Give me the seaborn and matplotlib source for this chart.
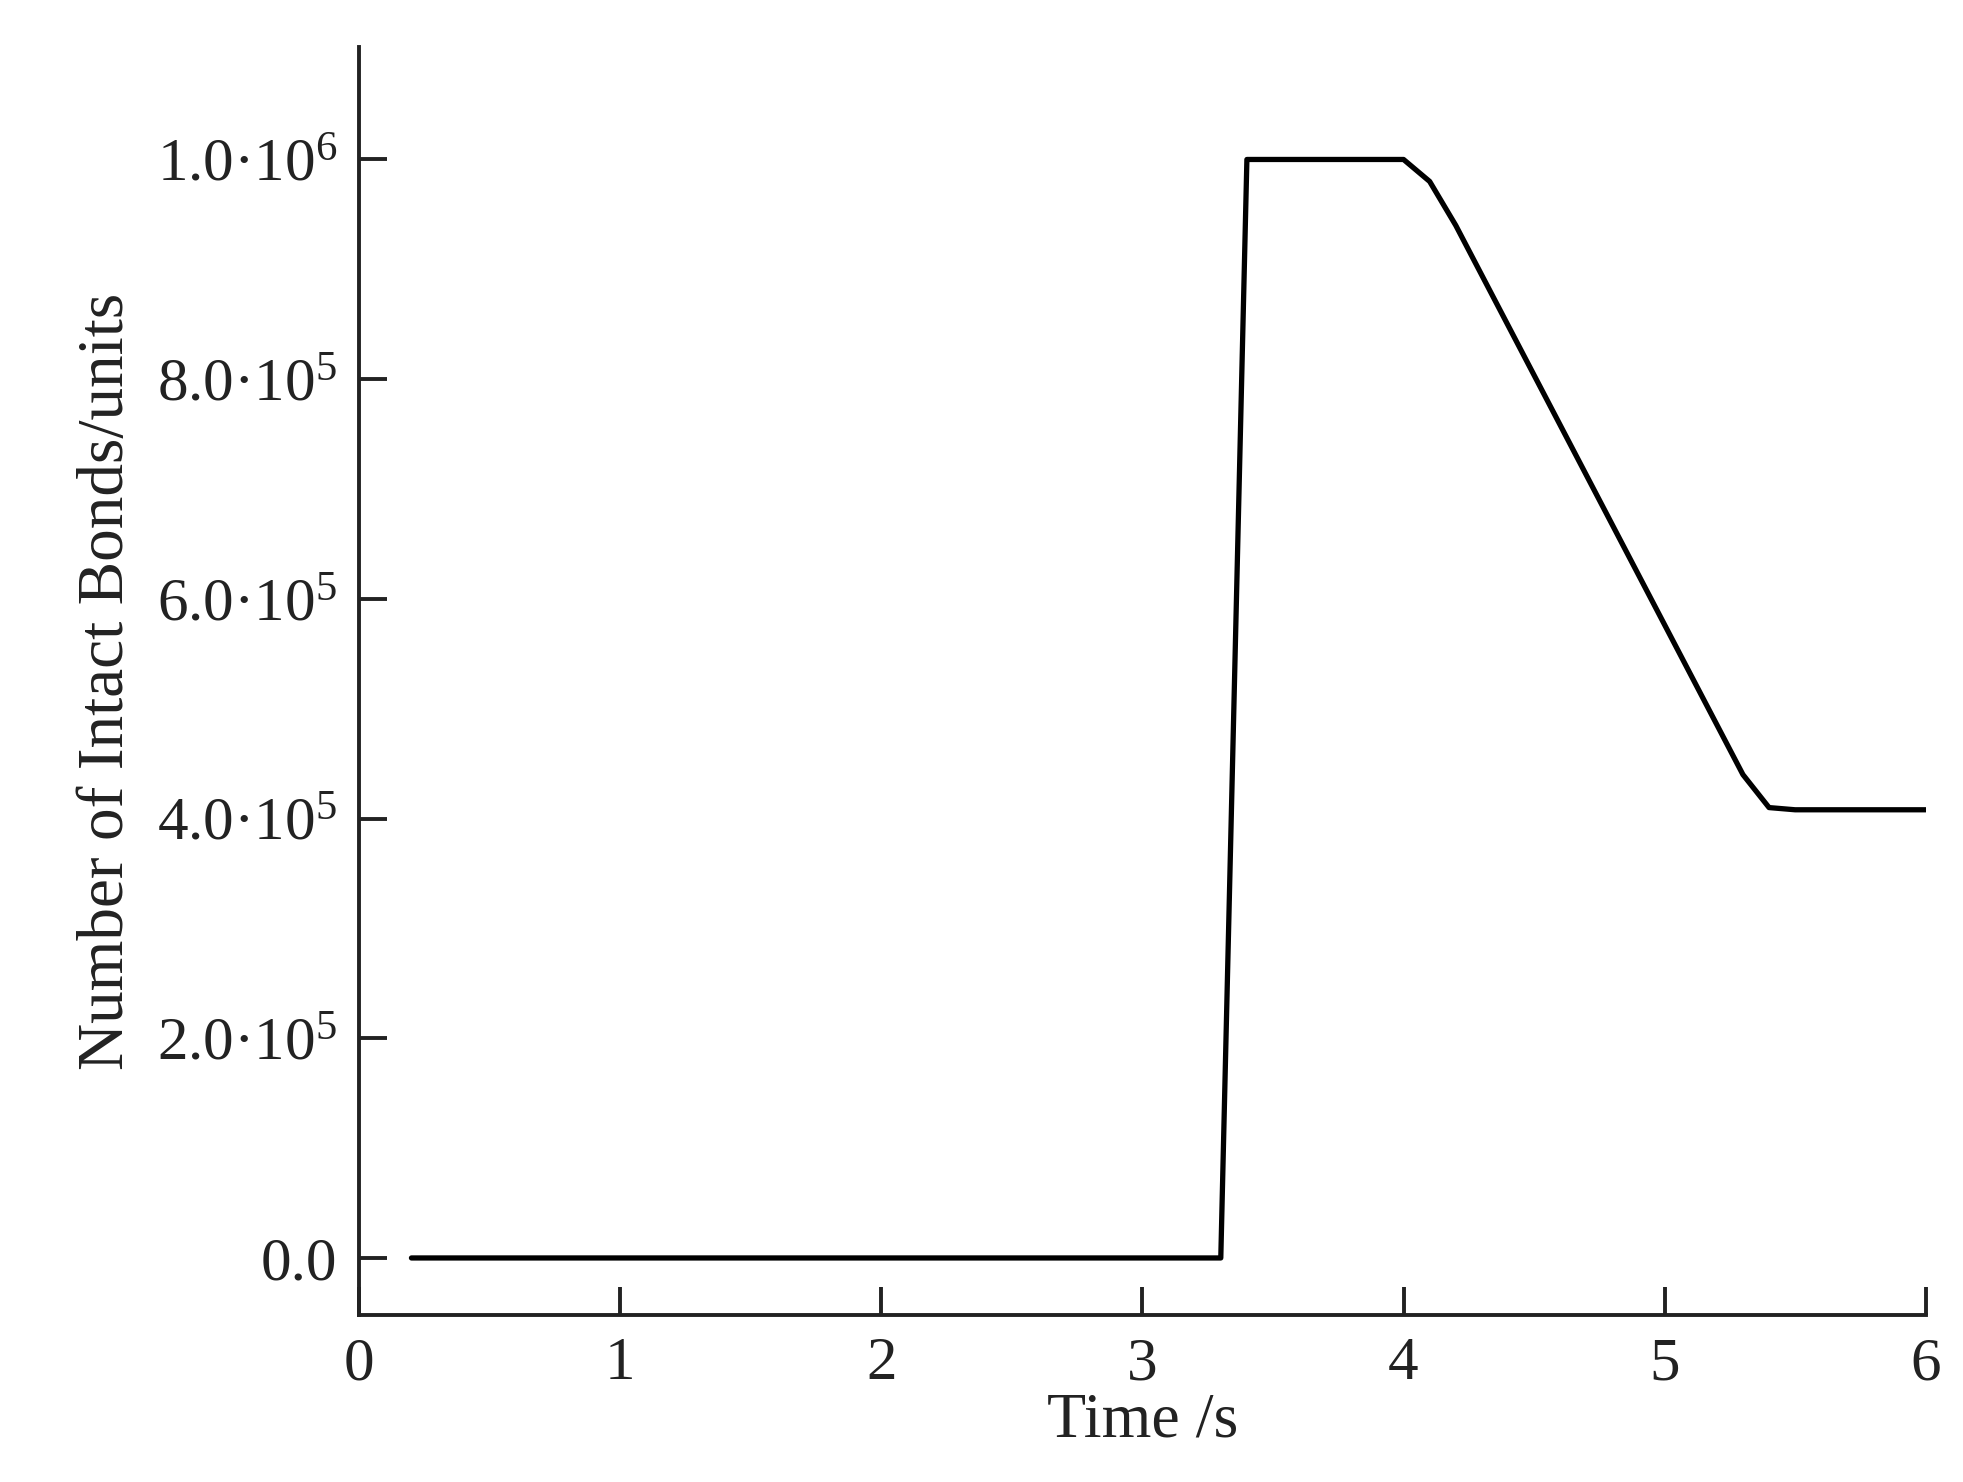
import matplotlib
matplotlib.use("Agg")
import matplotlib.pyplot as plt
import seaborn as sns
import pandas as pd

time_s = [0.2, 3.3, 3.4, 4.0, 4.1, 4.2, 5.3, 5.4, 5.5, 6.0]
bonds = [0, 0, 1.0e6, 1.0e6, 0.98e6, 0.94e6, 0.44e6, 0.41e6, 0.408e6, 0.408e6]
y_ticks = [0, 2e5, 4e5, 6e5, 8e5, 1e6]
y_labels = ["0.0", "2.0·10$^{5}$", "4.0·10$^{5}$", "6.0·10$^{5}$", "8.0·10$^{5}$", "1.0·10$^{6}$"]

sns.set_theme(style="ticks")
plt.rcParams['font.family'] = ['Liberation Serif', 'DejaVu Serif']
plt.rcParams['mathtext.fontset'] = 'custom'
plt.rcParams['mathtext.rm'] = 'Liberation Serif'
plt.rcParams['mathtext.it'] = 'Liberation Serif'

df = pd.DataFrame({"t": time_s, "b": bonds})
fig = plt.figure(figsize=(19.63, 14.82), dpi=100)
ax = fig.add_axes([0.183, 0.113, 0.798, 0.855])
sns.lineplot(data=df, x="t", y="b", color="black", linewidth=3.8, ax=ax)
ax.set_xlim(0, 6)
ax.set_ylim(-51500, 1.102e6)
ax.set_xticks(range(7))
ax.set_yticks(y_ticks)
ax.set_yticklabels(y_labels)
ax.tick_params(direction="in", length=20, width=2.8, labelsize=44, colors="#222222", pad=16)
for s in ["top", "right"]:
    ax.spines[s].set_visible(False)
for s in ["left", "bottom"]:
    ax.spines[s].set_linewidth(2.8)
    ax.spines[s].set_color("#222222")
ax.set_xlabel("Time /s", fontsize=46, labelpad=0, color="#222222")
ax.set_ylabel("Number of Intact Bonds/units", fontsize=47, labelpad=14, color="#222222")
fig.savefig("out.png", dpi=100)
